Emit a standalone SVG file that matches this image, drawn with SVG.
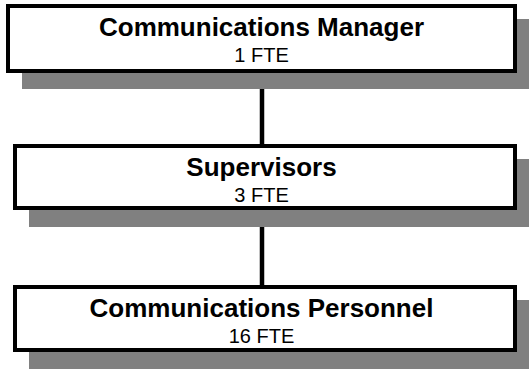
<svg xmlns="http://www.w3.org/2000/svg" width="529" height="369" viewBox="0 0 529 369">
<style>
.shadow{fill:#808080;stroke:none}
.box{fill:#ffffff;stroke:#000000;stroke-width:4}
.title{font-family:"Liberation Sans",Arial,sans-serif;font-weight:bold;font-size:26px;fill:#000;text-anchor:middle}
.sub{font-family:"Liberation Sans",Arial,sans-serif;font-size:20px;fill:#000;text-anchor:middle}
.conn{stroke:#000;stroke-width:4.5;fill:none}
</style>
<rect width="529" height="369" fill="#ffffff"/>
<g id="connectors">
<line class="conn" x1="262" y1="73" x2="262" y2="144"/>
<line class="conn" x1="262" y1="210" x2="262" y2="285"/>
</g>
<g id="node-manager">
<rect class="shadow" x="22" y="19" width="511" height="70"/>
<rect class="box" x="8" y="6" width="507" height="65"/>
<text class="title" x="261.5" y="35.5">Communications Manager</text>
<text class="sub" x="261.5" y="62">1 FTE</text>
</g>
<g id="node-supervisors">
<rect class="shadow" x="29" y="159" width="504" height="68"/>
<rect class="box" x="15" y="146" width="500" height="62"/>
<text class="title" x="261.5" y="175.5">Supervisors</text>
<text class="sub" x="261.5" y="202">3 FTE</text>
</g>
<g id="node-personnel">
<rect class="shadow" x="29" y="300" width="504" height="69"/>
<rect class="box" x="15" y="287" width="500" height="63"/>
<text class="title" x="261.5" y="316.5">Communications Personnel</text>
<text class="sub" x="261.5" y="342.5">16 FTE</text>
</g>
</svg>
